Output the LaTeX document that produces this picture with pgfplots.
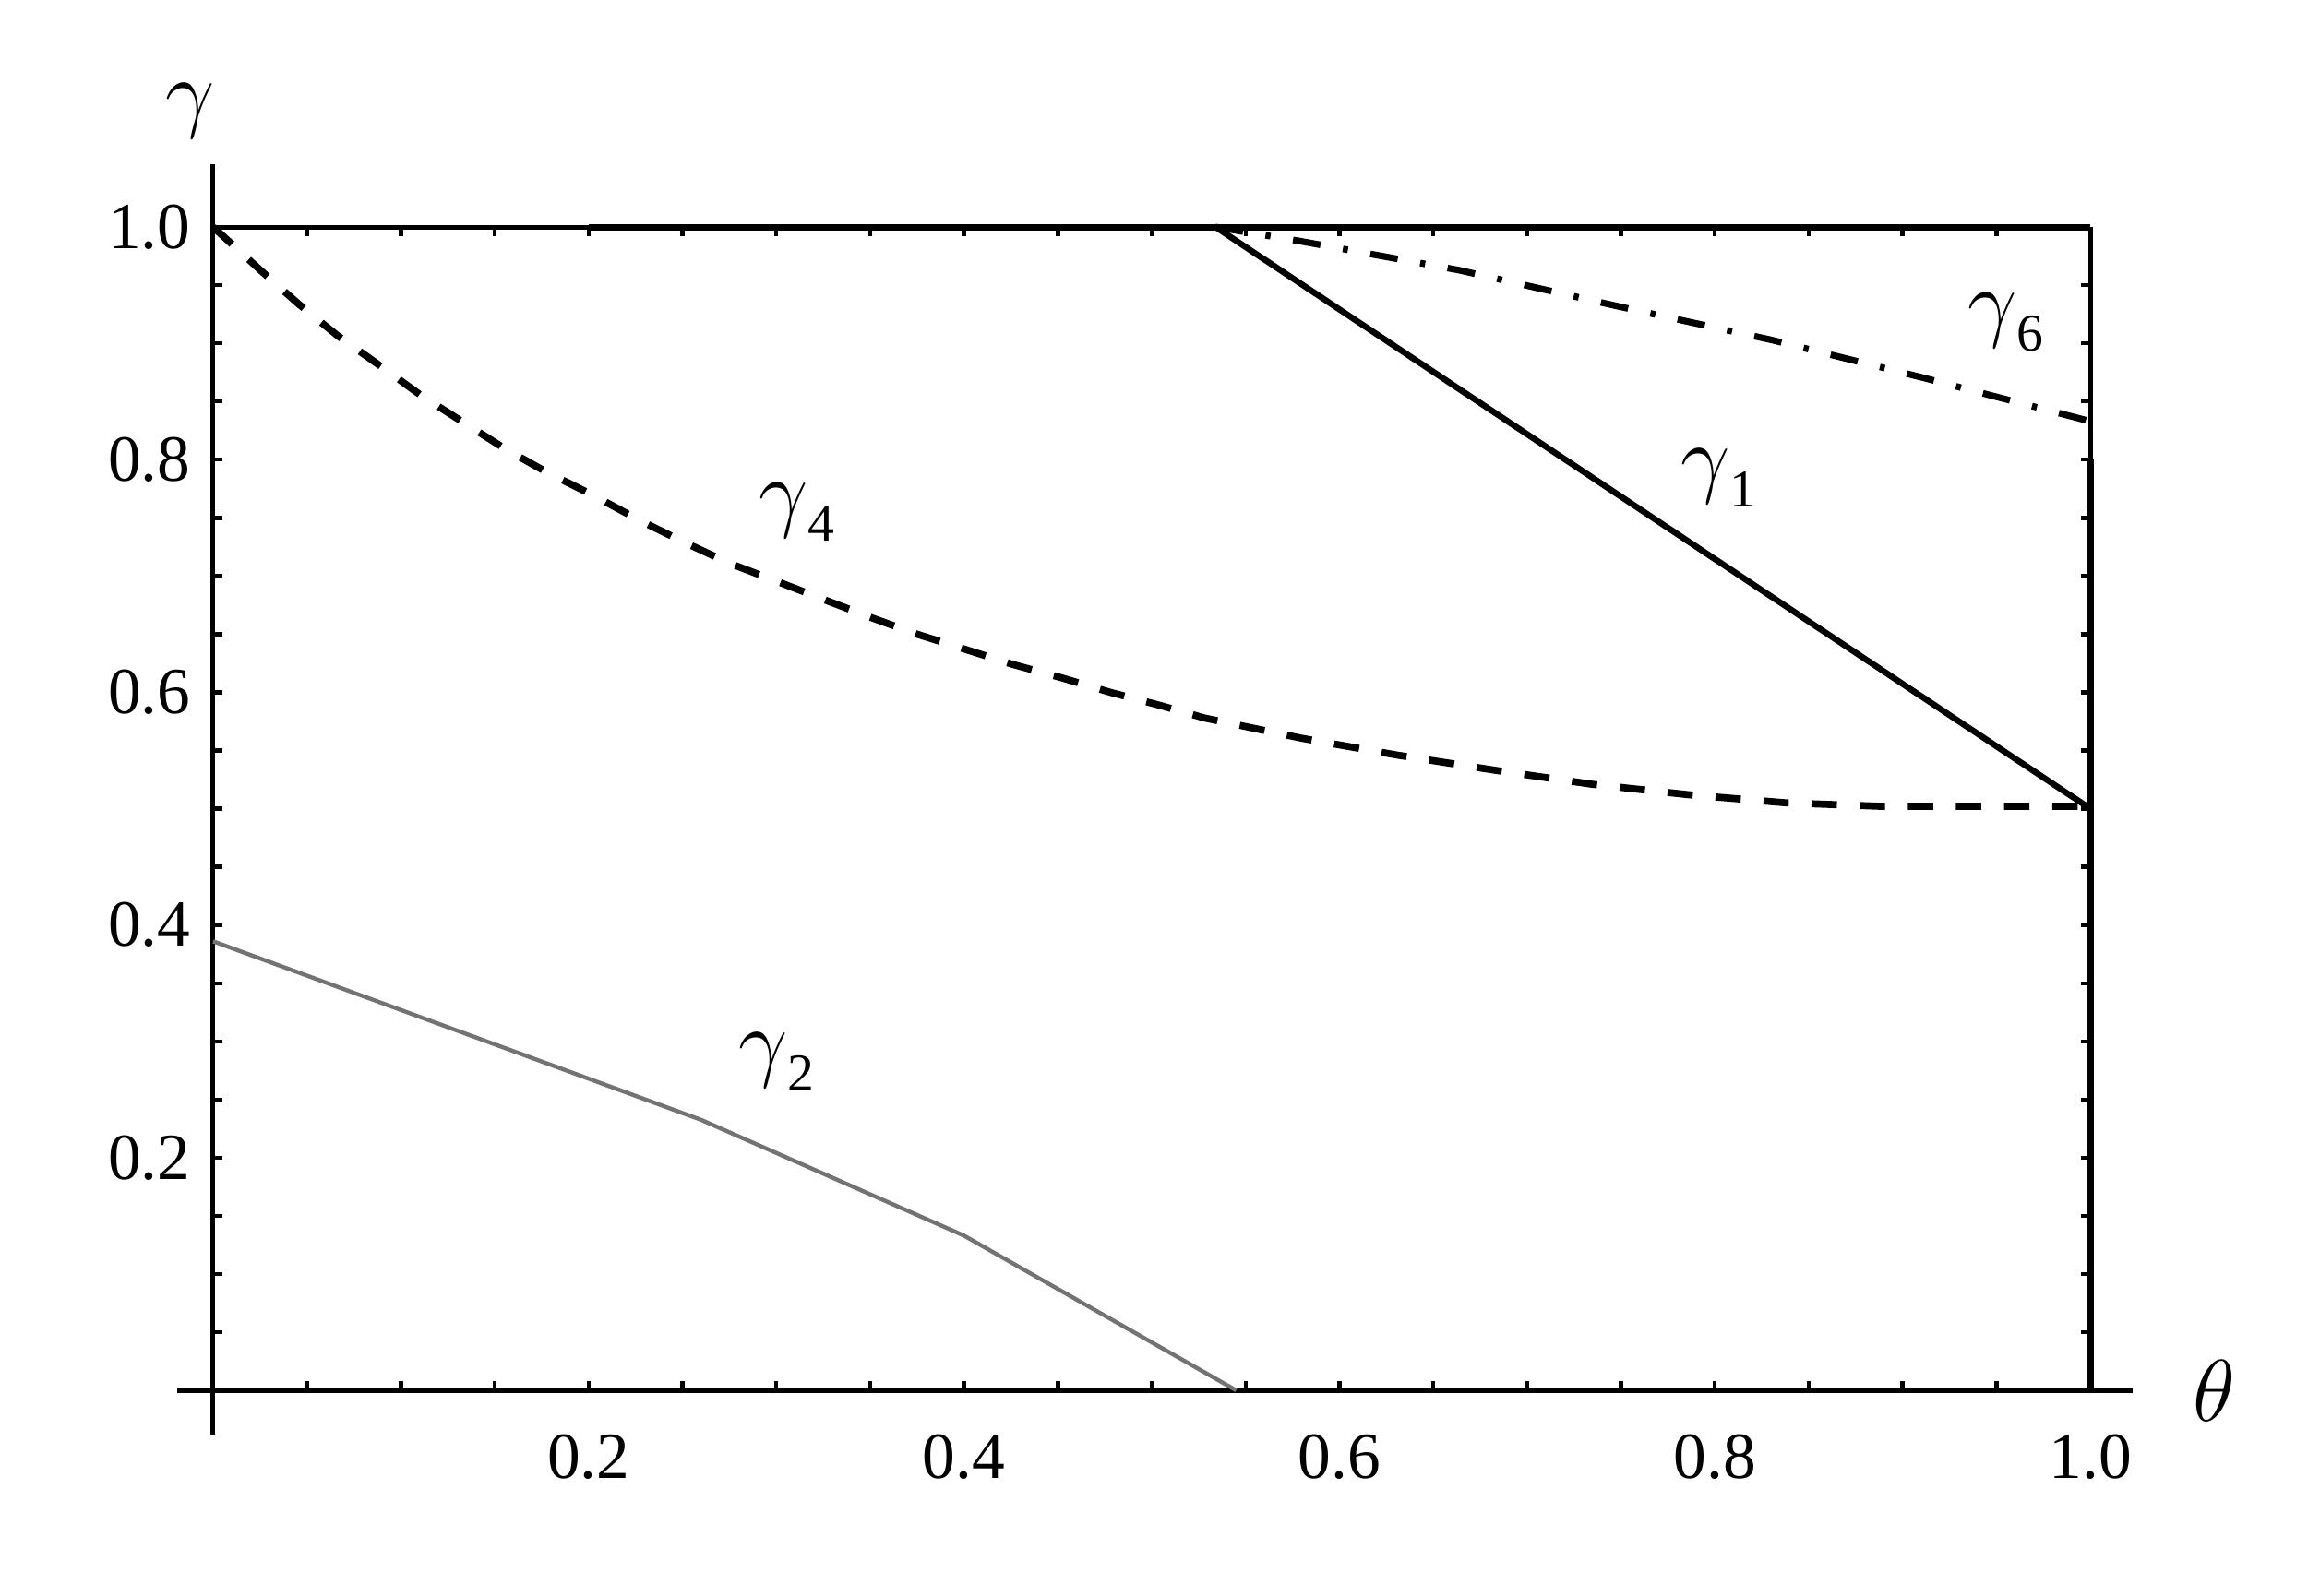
\documentclass[border=0pt]{standalone}
\usepackage{fontspec}
\setmainfont{Liberation Serif}
\usepackage{pgfplots}
\usepackage{pgfplotstable}
\pgfplotsset{compat=1.18}

\pgfplotstableread{
t g
0 1.0
0.0258 0.962
0.0454 0.934
0.066 0.907
0.0887 0.881
0.111 0.855
0.1334 0.832
0.1554 0.8095
0.178 0.789
0.203 0.769
0.227 0.748
0.251 0.729
0.275 0.711
0.301 0.695
0.325 0.680
0.351 0.664
0.375 0.650
0.4006 0.637
0.426 0.624
0.452 0.6125
0.478 0.600
0.504 0.589
0.528 0.578
0.58 0.5605
0.631 0.546
0.683 0.533
0.7345 0.521
0.786 0.512
0.838 0.505
0.889 0.502
0.941 0.502
1.0 0.502
}\gfour

\pgfplotstableread{
t g
0 0.386
0.26 0.2325
0.40 0.133
0.545 0.0
}\gtwo

\pgfplotstableread{
t g
0.534 1.0
0.5786 0.988
0.6635 0.963
0.748 0.932
0.830 0.903
0.912 0.870
1.0 0.833
}\gsix

\newcommand\lab[1]{\fontsize{16}{19}\selectfont$\gamma$\raisebox{-0.55ex}{\fontsize{10.5}{12}\selectfont #1}}

\begin{document}
\begin{tikzpicture}
% frame (top and right) with inward ticks
\begin{axis}[
  at={(0,0)}, anchor=origin,
  x=13.018cm, y=8.070cm,
  xmin=0, xmax=1, ymin=0, ymax=1,
  axis x line*=top, axis y line*=right,
  axis line style={line width=0.9pt, -},
  xtick={0,0.05,0.1,0.15,0.2,0.25,0.3,0.35,0.4,0.45,0.5,0.55,0.6,0.65,0.7,0.75,0.8,0.85,0.9,0.95,1},
  ytick={0,0.05,0.1,0.15,0.2,0.25,0.3,0.35,0.4,0.45,0.5,0.55,0.6,0.65,0.7,0.75,0.8,0.85,0.9,0.95,1},
  xticklabels={}, yticklabels={},
  tick align=inside,
  major tick length=0.064cm,
  tick style={line width=0.8pt, black},
]
\end{axis}
% main axes
\begin{axis}[
  at={(0,0)}, anchor=origin,
  x=13.018cm, y=8.070cm,
  xmin=-0.019, xmax=1.0225, ymin=-0.038, ymax=1.054,
  axis lines=middle,
  axis line style={line width=0.9pt, -},
  xtick={0.2,0.4,0.6,0.8,1.0},
  xticklabels={0.2,0.4,0.6,0.8,1.0},
  ytick={0.2,0.4,0.6,0.8,1.0},
  yticklabels={0.2,0.4,0.6,0.8,1.0},
  minor xtick={0.05,0.1,0.15,0.25,0.3,0.35,0.45,0.5,0.55,0.65,0.7,0.75,0.85,0.9,0.95},
  minor ytick={0.05,0.1,0.15,0.25,0.3,0.35,0.45,0.5,0.55,0.65,0.7,0.75,0.85,0.9,0.95},
  tick align=inside,
  major tick length=0.064cm, minor tick length=0.064cm,
  tick style={line width=0.8pt, black},
  xticklabel style={anchor=center, yshift=-0.46cm, font=\fontsize{13}{15}\selectfont},
  yticklabel style={anchor=east, inner sep=0pt, xshift=-0.15cm, font=\fontsize{13}{15}\selectfont},
  clip=false,
]
% boundary overlays
\addplot[black, line width=1.3pt] coordinates {(0.2,1) (1,1)};
\addplot[black, line width=1.3pt] coordinates {(1,0) (1,0.8)};
% gamma_2
\addplot[black!55, line width=0.8pt] table[x=t,y=g] {\gtwo};
% gamma_4
\addplot[black, line width=1.4pt, dash pattern=on 5pt off 4.5pt] table[x=t,y=g] {\gfour};
% gamma_1
\addplot[black, line width=1.2pt] coordinates {(0.534,1.0) (1.0,0.5)};
% gamma_6
\addplot[black, line width=1.3pt, dash pattern=on 5.5pt off 4.5pt on 1pt off 4.5pt] table[x=t,y=g] {\gsix};

\node at (axis cs:0.311,0.755) {\lab{4}};
\node at (axis cs:0.802,0.784) {\lab{1}};
\node at (axis cs:0.955,0.918) {\lab{6}};
\node at (axis cs:0.300,0.282) {\lab{2}};

\node at (axis cs:-0.012,1.10) {\fontsize{17}{20}\selectfont$\gamma$};
\node at (axis cs:1.066,0.0) {\fontsize{17}{20}\selectfont$\theta$};
\end{axis}
\pgfresetboundingbox
\path[use as bounding box] (-1.478,-1.421) rectangle (14.528,9.645);
\end{tikzpicture}
\end{document}
